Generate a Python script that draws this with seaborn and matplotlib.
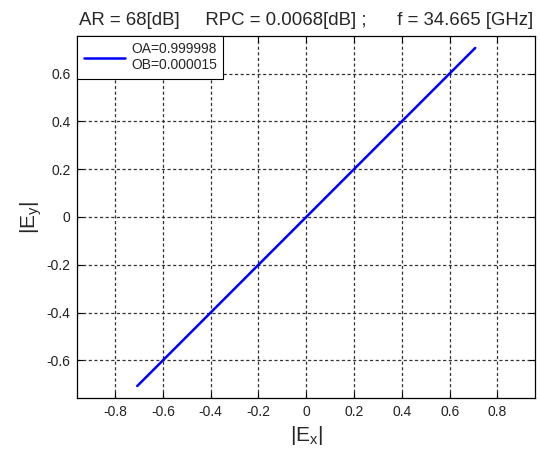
import pandas as pd
import matplotlib
matplotlib.use("Agg")
import matplotlib.pyplot as plt
import seaborn as sns

ex = [-0.707, 0.707]
ey = [-0.707, 0.707]
legend_label = "OA=0.999998\nOB=0.000015"
title = "AR = 68[dB]     RPC = 0.0068[dB] ;      f = 34.665 [GHz]"
ticks = [-0.8, -0.6, -0.4, -0.2, 0, 0.2, 0.4, 0.6, 0.8]

sns.set_style("ticks")
plt.rcParams["font.family"] = ["Liberation Sans", "DejaVu Sans"]

df = pd.DataFrame({"ex": ex, "ey": ey})

fig = plt.figure(figsize=(5.4, 4.5), dpi=100)
ax = fig.add_axes([0.1435, 0.1156, 0.8472, 0.8044])

sns.lineplot(data=df, x="ex", y="ey", color="#0000ff", linewidth=1.8, ax=ax, label=legend_label)

ax.set_xlim(-0.957, 0.957)
ax.set_ylim(-0.757, 0.757)
ax.set_xticks(ticks)
ax.set_yticks(ticks[1:-1])
ax.set_xticklabels(["0" if t == 0 else f"{t:g}" for t in ticks])
ax.set_yticklabels(["0" if t == 0 else f"{t:g}" for t in ticks[1:-1]])
ax.grid(True, color="#333333", linestyle=(0, (2.5, 2)), linewidth=0.9)
ax.tick_params(direction="in", length=4, labelsize=10, colors="black", labelcolor="#222222",
               top=True, right=True, pad=5)
for s in ax.spines.values():
    s.set_linewidth(0.9)
    s.set_color("black")

ax.set_xlabel("|E$_\\mathregular{x}$|", fontsize=15, labelpad=4)
ax.set_ylabel("|E$_\\mathregular{y}$|", fontsize=15, labelpad=2)
ax.set_title(title, fontsize=13.4, pad=8)

leg = ax.legend(loc="upper left", fontsize=10, frameon=True, fancybox=False,
                borderaxespad=0, handlelength=3.0, handletextpad=0.4,
                borderpad=0.45, markerfirst=True)
leg.get_frame().set_edgecolor("black")
leg.get_frame().set_linewidth(0.8)
leg.get_frame().set_alpha(1)
for t in leg.get_texts():
    t.set_ha("right")
    t.set_multialignment("right")
    t.set_linespacing(1.2)

fig.savefig("out.png", dpi=100)
